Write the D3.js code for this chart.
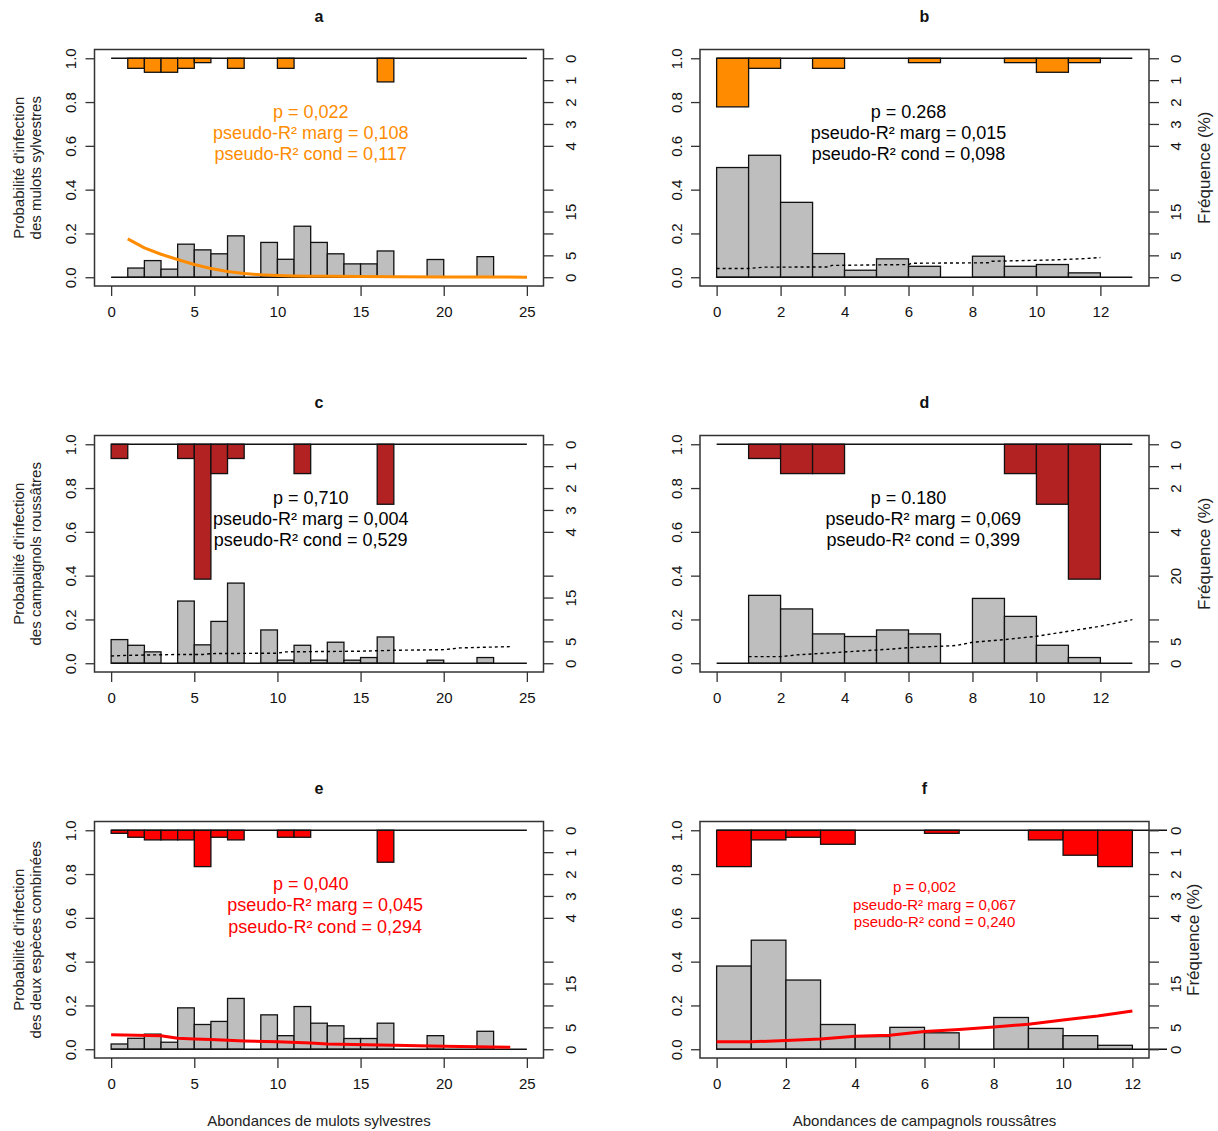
<!DOCTYPE html>
<html>
<head>
<meta charset="utf-8">
<script src="https://cdn.jsdelivr.net/npm/d3@7"></script>
<style>
  body { margin: 0; background: #fff; }
  svg { display: block; font-family: "Liberation Sans", Arial, sans-serif; }
</style>
</head>
<body>
<svg id="chart" width="1218" height="1131"></svg>
<script>
// ---------- data ----------
const panelLetters = ["a", "b", "c", "d", "e", "f"];
const mulotTicks = [0, 5, 10, 15, 20, 25];
const campagnolTicks = [0, 2, 4, 6, 8, 10, 12];
const probTicks = [0, 0.2, 0.4, 0.6, 0.8, 1.0];

// right-hand frequency axis (%): upper scale for infected, lower for uninfected
const freqTopTicks = [0, 1, 2, 3, 4];
const freqTopTicksD = [0, 1, 2, 4];
const freqBottomTicks = [0, 5, 10, 15, 20];
const freqBottomLabels = [0, 5, 15];
const freqBottomTicksD = [0, 5, 10, 20];
const freqBottomLabelsD = [0, 5, 20];

// histograms (% per unit-wide bin starting at 0): infected sites hang from 1, others rise from 0
const infectedA = [0, 0.46, 0.64, 0.64, 0.46, 0.2, 0, 0.46, 0, 0, 0.46, 0, 0, 0, 0, 0, 1.08, 0, 0, 0, 0, 0, 0, 0, 0];
const uninfectedA = [0, 2.1, 3.8, 1.85, 7.55, 6.25, 5.35, 9.45, 0, 7.95, 4.1, 11.65, 7.95, 5.35, 3.05, 3.05, 6.0, 0, 0, 4.05, 0, 0, 4.7, 0, 0];

const infectedB = [2.22, 0.46, 0, 0.46, 0, 0, 0.2, 0, 0, 0.2, 0.64, 0.2, 0];
const uninfectedB = [25.05, 27.85, 17.1, 5.4, 1.6, 4.2, 2.5, 0, 4.8, 2.5, 2.9, 1.0, 0];

const infectedC = [0.65, 0, 0, 0, 0.65, 6.16, 1.34, 0.65, 0, 0, 0, 1.34, 0, 0, 0, 0, 2.74, 0, 0, 0, 0, 0, 0, 0, 0];
const uninfectedC = [5.4, 4.1, 2.6, 0, 14.2, 4.2, 9.55, 18.3, 0, 7.6, 0.7, 4.1, 0.7, 4.8, 0.7, 1.3, 6.0, 0, 0, 0.7, 0, 0, 1.3, 0, 0];

const infectedD = [0, 0.65, 1.34, 1.34, 0, 0, 0, 0, 0, 1.34, 2.74, 6.16, 0];
const uninfectedD = [0, 15.5, 12.4, 6.7, 6.1, 7.6, 6.7, 0, 14.8, 10.7, 4.1, 1.3, 0];

const infectedE = [0.14, 0.32, 0.44, 0.44, 0.44, 1.66, 0.32, 0.44, 0, 0, 0.32, 0.32, 0, 0, 0, 0, 1.46, 0, 0, 0, 0, 0, 0, 0, 0];
const uninfectedE = [1.2, 2.5, 3.45, 1.6, 9.45, 5.65, 6.35, 11.6, 0, 7.85, 3.1, 9.75, 5.95, 5.35, 2.45, 2.45, 5.95, 0, 0, 3.1, 0, 0, 4.1, 0, 0];

const infectedF = [1.66, 0.44, 0.32, 0.64, 0, 0, 0.14, 0, 0, 0.44, 1.14, 1.66];
const uninfectedF = [19.0, 24.9, 15.8, 5.65, 2.9, 5.0, 3.75, 0, 7.25, 4.75, 3.1, 0.9];

// fitted infection probability
const fitAx = [1, 2, 3, 4, 5, 6, 7, 8, 9, 10, 11, 12, 13, 15, 17, 20, 22, 25];
const fitAy = [0.175, 0.134, 0.105, 0.081, 0.058, 0.040, 0.026, 0.017, 0.011, 0.008, 0.006, 0.005, 0.004, 0.003, 0.002, 0.0015, 0.001, 0.0005];
const fitBx = [0, 1, 1.5, 3.5, 3.6, 6, 6.1, 8.5, 8.6, 10.5, 11.5, 12];
const fitBy = [0.040, 0.040, 0.046, 0.047, 0.054, 0.058, 0.064, 0.066, 0.073, 0.079, 0.085, 0.090];
const fitCx = [0, 1, 4, 5.5, 6, 10, 10.5, 15, 17, 20, 21, 24];
const fitCy = [0.033, 0.036, 0.040, 0.040, 0.044, 0.046, 0.052, 0.055, 0.059, 0.062, 0.070, 0.076];
const fitDx = [1, 2, 2.5, 3.5, 4.5, 5.5, 6, 7.5, 8, 9, 10, 11, 12, 13];
const fitDy = [0.030, 0.030, 0.038, 0.047, 0.056, 0.065, 0.071, 0.081, 0.096, 0.108, 0.123, 0.146, 0.169, 0.199];
const fitEx = [0, 3, 4, 5, 6, 8, 10, 12, 13, 17, 20, 24];
const fitEy = [0.066, 0.062, 0.050, 0.047, 0.044, 0.038, 0.034, 0.029, 0.024, 0.018, 0.014, 0.009];
const fitFx = [0, 1, 2, 3, 4, 5, 6, 7, 8, 9, 10, 11, 12];
const fitFy = [0.034, 0.034, 0.040, 0.047, 0.059, 0.064, 0.081, 0.090, 0.102, 0.114, 0.134, 0.152, 0.175];

const statsA = ["p = 0,022", "pseudo-R² marg = 0,108", "pseudo-R² cond = 0,117"];
const statsB = ["p = 0.268", "pseudo-R² marg = 0,015", "pseudo-R² cond = 0,098"];
const statsC = ["p = 0,710", "pseudo-R² marg = 0,004", "pseudo-R² cond = 0,529"];
const statsD = ["p = 0.180", "pseudo-R² marg = 0,069", "pseudo-R² cond = 0,399"];
const statsE = ["p = 0,040", "pseudo-R² marg = 0,045", "pseudo-R² cond = 0,294"];
const statsF = ["p = 0,002", "pseudo-R² marg = 0,067", "pseudo-R² cond = 0,240"];

const yTitleMulots = ["Probabilité d'infection", "des mulots sylvestres"];
const yTitleCampagnols = ["Probabilité d'infection", "des campagnols roussâtres"];
const yTitleCombined = ["Probabilité d'infection", "des deux espèces combinées"];
const xTitleMulots = "Abondances de mulots sylvestres";
const xTitleCampagnols = "Abondances de campagnols roussâtres";
const freqTitle = "Fréquence (%)";

// ---------- layout ----------
const svg = d3.select("#chart");
const boxW = 449, boxH = 236.5;
const colLeft = [94.5, 700];
const rowTop = [49.5, 435.5, 821.5];

const ORANGE = "#ff8c00", FIREBRICK = "#b22222", RED = "#ff0000";

const panels = [
  { letter: panelLetters[0], col: 0, row: 0, xmax: 25, lineEnd: 25, xTicks: mulotTicks,
    infected: infectedA, uninfected: uninfectedA, color: ORANGE,
    fitX: fitAx, fitY: fitAy, fitStyle: "solid", fitColor: ORANGE,
    stats: statsA, statsColor: ORANGE, statsSize: 18, statsX: [12, 12, 12], statsY: [0.759, 0.663, 0.563],
    topTicks: freqTopTicks, botTicks: freqBottomTicks, botLabels: freqBottomLabels,
    yTitle: yTitleMulots },
  { letter: panelLetters[1], col: 1, row: 0, xmax: 13, lineEnd: 13, xTicks: campagnolTicks,
    infected: infectedB, uninfected: uninfectedB, color: ORANGE,
    fitX: fitBx, fitY: fitBy, fitStyle: "dotted", fitColor: "#000",
    stats: statsB, statsColor: "#000", statsSize: 18, statsX: [6, 6, 6], statsY: [0.759, 0.663, 0.563],
    topTicks: freqTopTicks, botTicks: freqBottomTicks, botLabels: freqBottomLabels,
    freqTitle: true, freqTitleDx: 55 },
  { letter: panelLetters[2], col: 0, row: 1, xmax: 25, lineEnd: 25, xTicks: mulotTicks,
    infected: infectedC, uninfected: uninfectedC, color: FIREBRICK,
    fitX: fitCx, fitY: fitCy, fitStyle: "dotted", fitColor: "#000",
    stats: statsC, statsColor: "#000", statsSize: 18, statsX: [12, 12, 12], statsY: [0.759, 0.663, 0.563],
    topTicks: freqTopTicks, botTicks: freqBottomTicks, botLabels: freqBottomLabels,
    yTitle: yTitleCampagnols },
  { letter: panelLetters[3], col: 1, row: 1, xmax: 13, lineEnd: 13, xTicks: campagnolTicks,
    infected: infectedD, uninfected: uninfectedD, color: FIREBRICK,
    fitX: fitDx, fitY: fitDy, fitStyle: "dotted", fitColor: "#000",
    stats: statsD, statsColor: "#000", statsSize: 18, statsX: [6, 6.46, 6.46], statsY: [0.759, 0.663, 0.563],
    topTicks: freqTopTicksD, botTicks: freqBottomTicksD, botLabels: freqBottomLabelsD,
    freqTitle: true, freqTitleDx: 55 },
  { letter: panelLetters[4], col: 0, row: 2, xmax: 25, lineEnd: 25, xTicks: mulotTicks,
    infected: infectedE, uninfected: uninfectedE, color: RED,
    fitX: fitEx, fitY: fitEy, fitStyle: "solid", fitColor: RED,
    stats: statsE, statsColor: RED, statsSize: 18, statsX: [12, 12.87, 12.87], statsY: [0.7545, 0.659, 0.559],
    topTicks: freqTopTicks, botTicks: freqBottomTicks, botLabels: freqBottomLabels,
    yTitle: yTitleCombined, xTitle: xTitleMulots },
  { letter: panelLetters[5], col: 1, row: 2, xmax: 12, lineEnd: 13, xTicks: campagnolTicks,
    infected: infectedF, uninfected: uninfectedF, color: RED,
    fitX: fitFx, fitY: fitFy, fitStyle: "solid", fitColor: RED,
    stats: statsF, statsColor: RED, statsSize: 15, statsX: [6, 6.29, 6.29], statsY: [0.741, 0.659, 0.582],
    topTicks: freqTopTicks, botTicks: freqBottomTicks, botLabels: freqBottomLabels,
    freqTitle: true, freqTitleDx: 44, xTitle: xTitleCampagnols }
];

function drawPanel(p) {
  const left = colLeft[p.col], top = rowTop[p.row];
  const g = svg.append("g").attr("class", "panel-" + p.letter);

  const x = d3.scaleLinear().domain([-0.04 * p.xmax, 1.04 * p.xmax]).range([left, left + boxW]);
  const y = d3.scaleLinear().domain([-0.04, 1.04]).range([top + boxH, top]);
  // percentage scales sharing the probability axis
  const topPct = d3.scaleLinear().domain([0, 10]).range([y(1), y(0)]);
  const botPct = d3.scaleLinear().domain([0, 50]).range([y(0), y(1)]);

  const bins = arr => arr.map((v, i) => ({ i, v })).filter(d => d.v > 0);

  // lower histogram
  g.append("g").selectAll("rect").data(bins(p.uninfected)).join("rect")
    .attr("x", d => x(d.i)).attr("width", d => x(d.i + 1) - x(d.i))
    .attr("y", d => botPct(d.v)).attr("height", d => botPct(0) - botPct(d.v))
    .attr("fill", "#bebebe").attr("stroke", "#111").attr("stroke-width", 1.3);

  // upper histogram
  g.append("g").selectAll("rect").data(bins(p.infected)).join("rect")
    .attr("x", d => x(d.i)).attr("width", d => x(d.i + 1) - x(d.i))
    .attr("y", topPct(0)).attr("height", d => topPct(d.v) - topPct(0))
    .attr("fill", p.color).attr("stroke", "#111").attr("stroke-width", 1.3);

  // reference lines at 0 and 1
  [0, 1].forEach(v => {
    g.append("line").attr("x1", x(0)).attr("x2", x(p.lineEnd))
      .attr("y1", y(v)).attr("y2", y(v))
      .attr("stroke", "#111").attr("stroke-width", 1.3);
  });

  // fitted curve
  const pts = p.fitX.map((v, i) => [v, p.fitY[i]]);
  const line = d3.line().x(d => x(d[0])).y(d => y(d[1]));
  const path = g.append("path").datum(pts).attr("d", line).attr("fill", "none")
    .attr("stroke", p.fitColor);
  if (p.fitStyle === "dotted") {
    path.attr("stroke-width", 1.4).attr("stroke-dasharray", "3,3");
  } else {
    path.attr("stroke-width", 3).attr("stroke-linejoin", "round");
  }

  // plot frame
  g.append("rect").attr("x", left).attr("y", top).attr("width", boxW).attr("height", boxH)
    .attr("fill", "none").attr("stroke", "#333").attr("stroke-width", 1.5);

  // bottom axis
  const ax = g.append("g").attr("transform", `translate(0,${top + boxH})`)
    .call(d3.axisBottom(x).tickValues(p.xTicks).tickSize(10).tickFormat(d3.format("d")));
  ax.select(".domain").remove();
  ax.selectAll("line").attr("stroke", "#333").attr("stroke-width", 1.3);
  ax.selectAll("text").attr("y", 26).attr("dy", "0.36em")
    .attr("font-size", 15).attr("fill", "#111").attr("font-family", null);

  // left axis
  const ay = g.append("g").attr("transform", `translate(${left},0)`)
    .call(d3.axisLeft(y).tickValues(probTicks).tickSize(9).tickFormat(d3.format(".1f")));
  ay.select(".domain").remove();
  ay.selectAll("line").attr("stroke", "#333").attr("stroke-width", 1.3);
  ay.selectAll("text").attr("x", null).attr("dy", "0.36em").attr("text-anchor", "middle")
    .attr("transform", "translate(-23.5,0) rotate(-90)")
    .attr("font-size", 15).attr("fill", "#111").attr("font-family", null);

  // right axes: upper (infected) and lower (uninfected) frequency scales
  const rightAxis = (scale, ticks, labels) => {
    const a = g.append("g").attr("transform", `translate(${left + boxW},0)`)
      .call(d3.axisRight(scale).tickValues(ticks).tickSize(10)
        .tickFormat(d => labels.includes(d) ? String(d) : ""));
    a.select(".domain").remove();
    a.selectAll("line").attr("stroke", "#333").attr("stroke-width", 1.3);
    a.selectAll("text").attr("x", null).attr("dy", "0.36em").attr("text-anchor", "middle")
      .attr("transform", "translate(27,0) rotate(-90)")
      .attr("font-size", 15).attr("fill", "#111").attr("font-family", null);
  };
  rightAxis(topPct, p.topTicks, p.topTicks);
  rightAxis(botPct, p.botTicks, p.botLabels);

  // panel letter
  g.append("text").attr("x", left + boxW / 2).attr("y", top - 33.5).attr("dy", "0.36em")
    .attr("text-anchor", "middle").attr("font-weight", "bold").attr("font-size", 16)
    .attr("fill", "#111").text(p.letter);

  // model statistics
  p.stats.forEach((s, i) => {
    g.append("text").attr("x", x(p.statsX[i])).attr("y", y(p.statsY[i])).attr("dy", "0.36em")
      .attr("text-anchor", "middle").attr("font-size", p.statsSize).attr("fill", p.statsColor)
      .text(s);
  });

  // axis titles
  if (p.yTitle) {
    const cy = (y(0) + y(1)) / 2;
    p.yTitle.forEach((s, i) => {
      g.append("text").attr("transform", `translate(${[19, 36][i]},${cy}) rotate(-90)`)
        .attr("dy", "0.36em").attr("text-anchor", "middle").attr("font-size", 15)
        .attr("fill", "#222").text(s);
    });
  }
  if (p.freqTitle) {
    const cy = (y(0) + y(1)) / 2;
    g.append("text").attr("transform", `translate(${left + boxW + p.freqTitleDx},${cy}) rotate(-90)`)
      .attr("dy", "0.36em").attr("text-anchor", "middle").attr("font-size", 17)
      .attr("fill", "#222").text(freqTitle);
  }
  if (p.xTitle) {
    g.append("text").attr("x", left + boxW / 2).attr("y", top + boxH + 63).attr("dy", "0.36em")
      .attr("text-anchor", "middle").attr("font-size", 15).attr("fill", "#222").text(p.xTitle);
  }
}

panels.forEach(drawPanel);
</script>
</body>
</html>
